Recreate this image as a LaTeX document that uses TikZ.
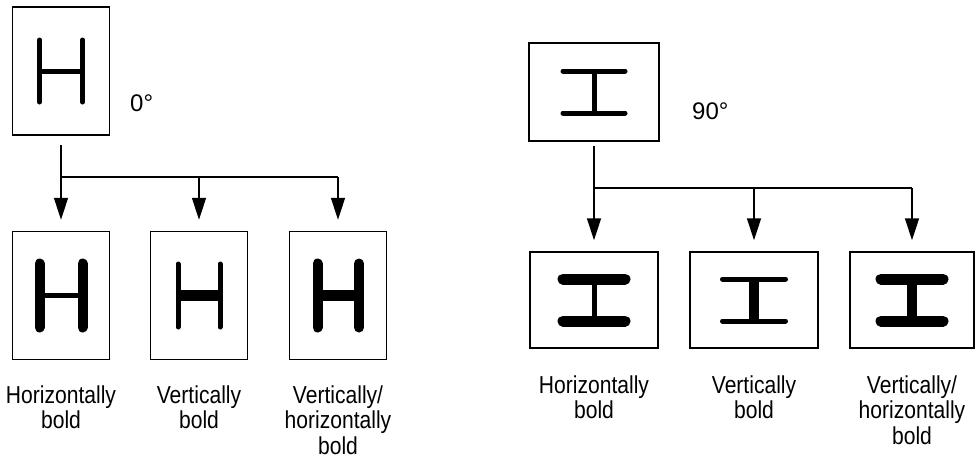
\documentclass[tikz,border=0pt]{standalone}
\usepackage{fontspec}
\setmainfont{Liberation Sans}
\newfontfamily\lblfont[FakeStretch=0.86]{Liberation Sans}
\usetikzlibrary{arrows.meta}
\begin{document}
\begin{tikzpicture}[x=1pt,y=-1pt,
  frame/.style={draw, line width=1.5pt, inner sep=0pt, minimum width=#1},
  tall/.style={frame=97pt, minimum height=128pt},
  wide/.style={frame=128pt, minimum height=96pt},
  conn/.style={line width=1.5pt},
  arr/.style={line width=1.5pt, -{Triangle[width=14pt,length=22pt]}, shorten >=11pt},
  thin/.style={line width=5pt},
  thick/.style={line width=11pt},
  rnd/.style={line cap=round},
  lbl/.style={font=\lblfont\fontsize{24.5pt}{25.5pt}\selectfont, align=center, anchor=base, inner sep=0pt},
  ang/.style={font=\fontsize{24pt}{28pt}\selectfont, anchor=base west, inner sep=0pt}]
\useasboundingbox (0,0) rectangle (976,459);

% ---------- left: 0 degrees ----------
\node[tall] (t0) at (61,71) {};
\node[ang] (a0) at (130,111) {0°};
\begin{scope}[shift={(t0.center)}]
  \draw[thin,rnd] (-21.5,-31) -- (-21.5,31);
  \draw[thin,rnd] (21.5,-31) -- (21.5,31);
  \draw[thin] (-21.5,0) -- (21.5,0);
\end{scope}

\node[tall] (b1) at (61,295.5) {};
\node[tall] (b2) at (199,295.5) {};
\node[tall] (b3) at (338,295.5) {};

\begin{scope}[shift={(b1.center)}]
  \draw[line width=10pt,rnd] (-21.5,-32) -- (-21.5,32);
  \draw[line width=10pt,rnd] (21.5,-32) -- (21.5,32);
  \draw[thin] (-21.5,0) -- (21.5,0);
\end{scope}
\begin{scope}[shift={(b2.center)}]
  \draw[thin,rnd] (-21,-31.5) -- (-21,31.5);
  \draw[thin,rnd] (21,-31.5) -- (21,31.5);
  \draw[thick] (-21,0) -- (21,0);
\end{scope}
\begin{scope}[shift={(b3.center)}]
  \draw[line width=10pt,rnd] (-20.5,-32) -- (-20.5,32);
  \draw[line width=10pt,rnd] (21,-32) -- (21,32);
  \draw[thick] (-20.5,0) -- (21,0);
\end{scope}

\coordinate (s0) at (61,145);
\coordinate (j0) at (61,177);
\draw[conn] (s0) -- (j0) -- (j0 -| b3);
\draw[arr] (j0) -- (b1);
\draw[arr] (j0 -| b2) -- (b2);
\draw[arr] (j0 -| b3) -- (b3);

\node[lbl] (l1) at (61,428.5) {Horizontally\\bold};
\node[lbl] (l2) at (199,428.5) {Vertically\\bold};
\node[lbl] (l3) at (338,454) {Vertically/\\horizontally\\bold};

% ---------- right: 90 degrees ----------
\node[frame=130pt, minimum height=98pt] (t9) at (594,92) {};
\node[ang] (a9) at (692,119) {90°};
\begin{scope}[shift={(t9.center)}]
  \draw[thin,rnd] (-31,-21) -- (31,-21);
  \draw[thin,rnd] (-31,21) -- (31,21);
  \draw[thin] (0,-21) -- (0,21);
\end{scope}

\node[wide] (c1) at (594,300) {};
\node[wide] (c2) at (754,300) {};
\node[frame=124pt, minimum height=96pt] (c3) at (912,300) {};

\begin{scope}[shift={(c1.center)}]
  \draw[thick,rnd] (-31,-21) -- (31,-21);
  \draw[thick,rnd] (-31,21) -- (31,21);
  \draw[thin] (0,-21) -- (0,21);
\end{scope}
\begin{scope}[shift={(c2.center)}]
  \draw[thin,rnd] (-31.5,-21) -- (31.5,-21);
  \draw[thin,rnd] (-31.5,21) -- (31.5,21);
  \draw[line width=10pt] (0,-21) -- (0,21);
\end{scope}
\begin{scope}[shift={(c3.center)}]
  \draw[thick,rnd] (-31,-21) -- (31,-21);
  \draw[thick,rnd] (-31,21) -- (31,21);
  \draw[line width=10pt] (0,-21) -- (0,21);
\end{scope}

\coordinate (s9) at (594,146);
\coordinate (j9) at (594,188);
\draw[conn] (s9) -- (j9) -- (j9 -| c3);
\draw[arr] (j9) -- (c1);
\draw[arr] (j9 -| c2) -- (c2);
\draw[arr] (j9 -| c3) -- (c3);

\node[lbl] (r1) at (594,418.5) {Horizontally\\bold};
\node[lbl] (r2) at (754,418.5) {Vertically\\bold};
\node[lbl] (r3) at (912,444) {Vertically/\\horizontally\\bold};
\end{tikzpicture}
\end{document}
